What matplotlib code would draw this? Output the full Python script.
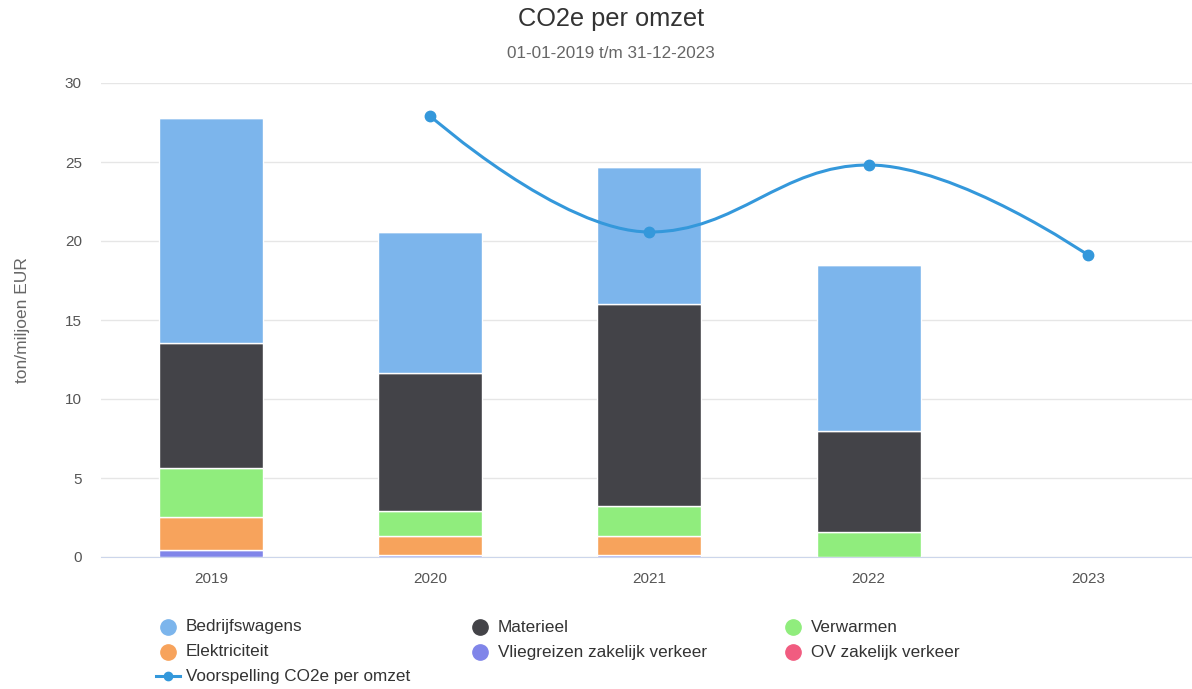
import matplotlib.pyplot as plt
import numpy as np
from matplotlib.path import Path
from matplotlib.patches import PathPatch
from matplotlib.lines import Line2D

plt.rcParams['font.family'] = ['Liberation Sans', 'DejaVu Sans']

years = ['2019', '2020', '2021', '2022', '2023']

# stacked bar segments (ton / miljoen EUR), bottom to top
vliegreizen = [0.44, 0.13, 0.13, 0.0, 0.0]
elektriciteit = [2.09, 1.20, 1.20, 0.0, 0.0]
verwarmen = [3.10, 1.58, 1.92, 1.60, 0.0]
materieel = [7.91, 8.73, 12.77, 6.37, 0.0]
bedrijfswagens = [14.24, 8.92, 8.67, 10.51, 0.0]
ov = [0.0, 0.0, 0.0, 0.0, 0.0]

voorspelling = [None, 27.91, 20.57, 24.81, 19.11]

series = [
    ('Vliegreizen zakelijk verkeer', vliegreizen, '#8085e9'),
    ('Elektriciteit', elektriciteit, '#f7a35c'),
    ('Verwarmen', verwarmen, '#90ed7d'),
    ('Materieel', materieel, '#434348'),
    ('Bedrijfswagens', bedrijfswagens, '#7cb5ec'),
    ('OV zakelijk verkeer', ov, '#f15c80'),
]
line_color = '#3498db'

fig = plt.figure(figsize=(11.92, 6.89), dpi=100)
W, H = 1192, 689
ax = fig.add_axes([101.3 / W, (H - 557) / H, (W - 101.3) / W, 474 / H])

x = np.arange(len(years))
bottom = np.zeros(len(years))
for name, vals, col in series:
    vals = np.array(vals)
    ax.bar(x, vals, 0.474, bottom=bottom, color=col, edgecolor='white',
           linewidth=1, zorder=2)
    bottom += vals


# Highcharts-style spline through the forecast points
def spline_path(px, py, smoothing=1.5):
    n = len(px)
    denom = smoothing + 1
    lc = [(px[i], py[i]) for i in range(n)]
    rc = [(px[i], py[i]) for i in range(n)]
    for i in range(1, n - 1):
        lx = (smoothing * px[i] + px[i - 1]) / denom
        ly = (smoothing * py[i] + py[i - 1]) / denom
        rx = (smoothing * px[i] + px[i + 1]) / denom
        ry = (smoothing * py[i] + py[i + 1]) / denom
        corr = (ry - ly) * (rx - px[i]) / (rx - lx) + py[i] - ry
        ly += corr
        ry += corr
        if ly > py[i - 1] and ly > py[i]:
            ly = max(py[i - 1], py[i]); ry = 2 * py[i] - ly
        elif ly < py[i - 1] and ly < py[i]:
            ly = min(py[i - 1], py[i]); ry = 2 * py[i] - ly
        if ry > py[i + 1] and ry > py[i]:
            ry = max(py[i + 1], py[i]); ly = 2 * py[i] - ry
        elif ry < py[i + 1] and ry < py[i]:
            ry = min(py[i + 1], py[i]); ly = 2 * py[i] - ry
        lc[i] = (lx, ly)
        rc[i] = (rx, ry)
    verts = [(px[0], py[0])]
    codes = [Path.MOVETO]
    for i in range(1, n):
        verts += [rc[i - 1], lc[i], (px[i], py[i])]
        codes += [Path.CURVE4] * 3
    return Path(verts, codes)


lx = [i for i, v in enumerate(voorspelling) if v is not None]
ly = [v for v in voorspelling if v is not None]
ax.add_patch(PathPatch(spline_path(lx, ly), facecolor='none',
                       edgecolor=line_color, linewidth=2.2, zorder=4))
ax.plot(lx, ly, 'o', color=line_color, markersize=7.5, zorder=5)

ax.set_xlim(-0.5, 4.5 - 5.6 / 219.3)
ax.set_ylim(0, 30)
ax.set_yticks([0, 5, 10, 15, 20, 25, 30])
ax.set_xticks(x)
ax.set_xticklabels(years)
ax.grid(axis='y', color='#e6e6e6', linewidth=1, zorder=0)
ax.set_axisbelow(True)
for s in ['top', 'right', 'left']:
    ax.spines[s].set_visible(False)
ax.spines['bottom'].set_color('#ccd6eb')
ax.tick_params(axis='y', length=0, pad=14, labelsize=11, labelcolor='#555555')
ax.tick_params(axis='x', length=0, pad=10.5, labelsize=11, labelcolor='#555555')
ax.set_ylabel('ton/miljoen EUR', fontsize=12.5, color='#666666', labelpad=25)

fig.text(611 / W, 1 - 19 / H, 'CO2e per omzet', ha='center', va='center',
         fontsize=18.3, color='#333333')
fig.text(611 / W, 1 - 53 / H, '01-01-2019 t/m 31-12-2023', ha='center',
         va='center', fontsize=12.3, color='#666666')

# legend, laid out like the original (3 columns)
legend_items = [
    ('Bedrijfswagens', '#7cb5ec', 168, 627),
    ('Materieel', '#434348', 480, 627),
    ('Verwarmen', '#90ed7d', 793, 627),
    ('Elektriciteit', '#f7a35c', 168, 652),
    ('Vliegreizen zakelijk verkeer', '#8085e9', 480, 652),
    ('OV zakelijk verkeer', '#f15c80', 793, 652),
]
for name, col, px, py in legend_items:
    fig.add_artist(Line2D([px / W], [1 - py / H], marker='o', markersize=11,
                          color=col, linestyle='none',
                          transform=fig.transFigure))
    fig.text((px + 18) / W, 1 - py / H, name, ha='left', va='center',
             fontsize=12.3, color='#333333')
fig.add_artist(Line2D([156 / W, 180 / W], [1 - 676 / H, 1 - 676 / H],
                      color=line_color, linewidth=2.2,
                      transform=fig.transFigure))
fig.add_artist(Line2D([168 / W], [1 - 676 / H], marker='o', markersize=6,
                      color=line_color, linestyle='none',
                      transform=fig.transFigure))
fig.text(186 / W, 1 - 676 / H, 'Voorspelling CO2e per omzet', ha='left',
         va='center', fontsize=12.3, color='#333333')

fig.savefig('out.png', dpi=100)
